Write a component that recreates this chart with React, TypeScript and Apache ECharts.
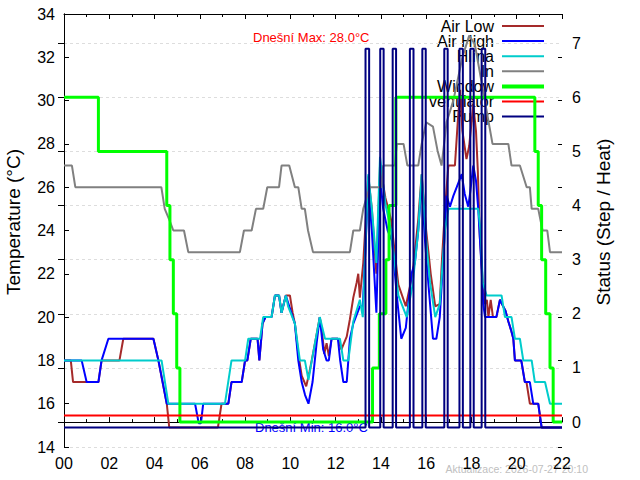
import React, { useEffect, useRef } from "react";
import * as echarts from "echarts";

// ---- data (time in hours, temperature in °C, status on right axis) ----
const airLow: [number, number][] = [
  [0, 18], [0.3, 18], [0.4, 17], [1.52, 17], [1.66, 18], [2.45, 18], [2.62, 19], [3.95, 19],
  [4.17, 18], [4.54, 16], [4.65, 14.9], [6.8, 14.9], [6.96, 16], [7.26, 16], [7.4, 17], [7.85, 17],
  [8.0, 18], [8.1, 18], [8.25, 19], [8.55, 19], [8.63, 18], [8.77, 19.7], [8.9, 20], [9.17, 20],
  [9.32, 21], [9.5, 21], [9.61, 20.2], [9.8, 21], [9.98, 21], [10.1, 20.2], [10.2, 19.7],
  [10.35, 18.3], [10.5, 17.3], [10.7, 16.8], [10.85, 17.5], [11.0, 18.3], [11.3, 20], [11.4, 19.3],
  [11.5, 18.3], [11.6, 18.8], [11.7, 18.2], [11.82, 19], [12.1, 19], [12.25, 18.5], [12.49, 19.1],
  [12.63, 19.9], [12.78, 20.9], [12.93, 21.6], [13.0, 22], [13.07, 20.9], [13.22, 22.5],
  [13.44, 26.5], [13.6, 25], [13.8, 22], [13.96, 27], [14.2, 25.5], [14.45, 24.5], [14.77, 21.5],
  [15.1, 20.5], [15.4, 22], [15.65, 24.5], [15.8, 26.6], [16.0, 24], [16.2, 22], [16.4, 20.5],
  [16.6, 20.6], [16.7, 22.7], [16.83, 25], [16.98, 27], [17.27, 27], [17.4, 29.1], [17.5, 30.5],
  [17.6, 28.6], [17.78, 27.3], [17.9, 27.9], [18.08, 29.8], [18.2, 28.6], [18.28, 26.8],
  [18.37, 23.7], [18.5, 21.6], [18.6, 20.6], [18.68, 20.8], [18.75, 20], [18.85, 20.8],
  [18.95, 20], [19.1, 20], [19.26, 20.8], [19.35, 20.6], [19.5, 20.3], [19.63, 19.8],
  [19.75, 19.4], [19.85, 19], [19.92, 18], [20.2, 18], [20.36, 17], [20.43, 17], [20.58, 16],
  [20.95, 16], [21.1, 14.9], [22, 14.9],
];

const airHigh: [number, number][] = [
  [0, 18], [0.78, 18], [1.0, 17], [1.52, 17], [1.66, 18], [1.96, 19], [3.95, 19], [4.17, 18],
  [4.54, 16], [5.79, 16], [5.95, 15.1], [6.05, 15.1], [6.15, 16], [7.26, 16], [7.4, 17],
  [7.85, 17], [8.0, 18], [8.1, 18], [8.25, 19], [8.55, 19], [8.63, 18], [8.77, 19.7], [8.9, 20],
  [9.17, 20], [9.32, 21], [9.5, 21], [9.61, 20.2], [9.8, 21], [9.95, 20.5], [10.2, 19.7],
  [10.35, 18], [10.5, 17], [10.65, 16.4], [10.8, 16], [10.98, 17], [11.16, 18.8], [11.3, 20],
  [11.45, 18.5], [11.6, 18], [11.7, 18], [11.82, 19], [12.1, 19], [12.2, 18], [12.34, 17],
  [12.49, 17], [12.63, 19], [12.78, 19.7], [13.07, 20.5], [13.2, 20.5], [13.44, 26], [13.6, 24],
  [13.8, 20.2], [13.96, 26.5], [14.1, 25], [14.3, 24], [14.5, 23.5], [14.7, 21], [14.9, 19],
  [15.1, 19.5], [15.35, 22], [15.5, 22.5], [15.65, 24], [15.8, 26.2], [15.95, 23.5], [16.1, 21.5],
  [16.3, 19], [16.45, 19], [16.6, 20], [16.8, 23.5], [16.9, 25.6], [17.05, 25.1], [17.2, 25.6],
  [17.35, 26], [17.57, 26.6], [17.7, 25.7], [17.86, 25.1], [17.95, 25.8], [18.08, 27],
  [18.2, 26.3], [18.3, 25], [18.45, 22.2], [18.52, 20.6], [18.6, 20], [19.1, 20], [19.26, 20.8],
  [19.35, 20.6], [19.5, 20.3], [19.63, 19.8], [19.75, 19.4], [19.85, 19], [19.92, 18], [20.2, 18],
  [20.36, 17], [20.58, 17], [20.73, 16], [20.95, 16], [21.1, 14.9], [22, 14.9],
];

const hlina: [number, number][] = [
  [0, 18], [4.31, 18], [4.61, 16], [7.11, 16], [7.4, 18], [8.0, 18], [8.14, 19], [8.66, 19],
  [8.8, 20], [9.17, 20], [9.32, 21], [9.5, 21], [9.61, 20.2], [9.8, 21], [9.9, 20.5],
  [10.2, 19.7], [10.42, 18], [10.64, 18], [10.8, 17.1], [11.0, 18.3], [11.3, 20], [11.53, 19],
  [12.19, 19], [12.34, 18], [12.56, 18], [12.78, 19.8], [13.07, 20.8], [13.2, 20], [13.44, 26.6],
  [13.6, 25], [13.8, 22.5], [13.96, 27.4], [14.2, 25.2], [14.45, 24], [14.77, 21], [15.14, 20],
  [15.4, 21.5], [15.65, 24], [15.8, 26.6], [16.02, 23.3], [16.17, 21.6], [16.4, 20], [16.6, 20.6],
  [16.83, 24], [16.98, 25], [18.3, 25], [18.4, 24], [18.5, 21.6], [18.67, 21], [19.33, 21],
  [19.48, 20], [19.77, 20], [19.92, 19], [20.14, 19], [20.29, 18], [20.66, 18], [20.8, 17],
  [21.25, 17], [21.47, 16], [22, 16],
];

const inside: [number, number][] = [
  [0, 27], [0.35, 27], [0.5, 26], [4.3, 26], [4.45, 25], [4.65, 24.5], [4.83, 24], [5.3, 24],
  [5.49, 23], [7.77, 23], [7.95, 24], [8.29, 24], [8.48, 25], [8.8, 25], [8.98, 26], [9.5, 26],
  [9.61, 27], [9.95, 27], [10.2, 26], [10.35, 26], [10.5, 25], [10.64, 25], [10.78, 24],
  [11.0, 23], [12.63, 23], [12.78, 24], [13.07, 24], [13.22, 25], [13.5, 26], [14.03, 26],
  [14.1, 27], [14.62, 27], [14.7, 28], [15.0, 28], [15.17, 27], [15.65, 27], [15.8, 28],
  [16.0, 29], [16.3, 28.8], [16.5, 27.7], [16.68, 27], [16.9, 29], [17.2, 30], [17.6, 32],
  [17.9, 33], [18.15, 32.6], [18.93, 28], [19.63, 28], [19.77, 27], [20.14, 27], [20.44, 26],
  [20.58, 26], [20.66, 25], [20.95, 25], [21.14, 24], [21.35, 24], [21.47, 23], [22, 23],
];

// window step (0..6), value holds from its time until the next entry
const windowSteps: [number, number][] = [
  [0, 6], [1.52, 5], [4.54, 4], [4.68, 3], [4.83, 2], [4.98, 1], [5.12, 0], [13.63, 1],
  [13.93, 2], [14.22, 3], [14.36, 4], [14.66, 6], [20.8, 5], [20.95, 4], [21.1, 3], [21.28, 2],
  [21.47, 1], [21.61, 0], [22, 0],
];

const ventilator: [number, number][] = [[0, 0.12], [22, 0.12]];

const pumpOnIntervals: [number, number][] = [
  [13.32, 13.48], [13.97, 14.12], [14.52, 14.67], [15.28, 15.44], [15.83, 15.98],
  [16.8, 16.95], [17.47, 17.62], [17.95, 18.1], [18.45, 18.61],
];
const pumpOffLevel = -0.1;
const pumpOnLevel = 6.9;

const legendNames = ["Air Low", "Air High", "Hlína", "In", "Window", "ventilator", "Pump"];
const legendColors = ["#a52a2a", "#0000ff", "#00cccc", "#808080", "#00ff00", "#ff0000", "#000080"];
const legendWidths = [2, 2, 2, 2, 4, 2, 2];

const maxText = "Dnešní Max: 28.0°C";
const minText = "Dnešní Min: 16.0°C";
const updateText = "Aktualizace: 2026-07-27 20:10";

const FONT = '"Liberation Sans", Arial, sans-serif';

export default function App() {
  const ref = useRef<HTMLDivElement>(null);

  useEffect(() => {
    const chart = echarts.init(ref.current!, null, { renderer: "svg" });

    const pumpData: [number, number][] = [[0, pumpOffLevel]];
    pumpOnIntervals.forEach(([a, b]) => {
      pumpData.push([a, pumpOnLevel]);
      pumpData.push([b, pumpOffLevel]);
    });
    pumpData.push([22, pumpOffLevel]);

    const black = { color: "#000", width: 1 };
    const lineSeries = (name: string, data: any, color: string, width: number, yAxisIndex: number, step?: string) => ({
      name,
      type: "line",
      data,
      xAxisIndex: 0,
      yAxisIndex,
      step: step || false,
      symbol: "none",
      showSymbol: false,
      lineStyle: { color, width },
      itemStyle: { color },
      emphasis: { disabled: true },
    });

    const legendGraphics: any[] = [];
    legendNames.forEach((n, i) => {
      const y = 26 + i * 15.1;
      legendGraphics.push({
        type: "text",
        x: 494,
        y,
        style: { text: n, fill: "#000", font: `16px ${FONT}`, textAlign: "right", textVerticalAlign: "middle" },
      });
      legendGraphics.push({
        type: "line",
        shape: { x1: 502, y1: y, x2: 544, y2: y },
        style: { stroke: legendColors[i], lineWidth: legendWidths[i] },
      });
    });

    const option: any = {
      animation: false,
      backgroundColor: "#ffffff",
      grid: { left: 64, right: 78, top: 14, bottom: 33, containLabel: false },
      xAxis: [
        {
          type: "value", min: 0, max: 22, interval: 2, position: "bottom",
          axisLine: { show: true, lineStyle: black },
          axisTick: { show: true, inside: true, length: 5, lineStyle: black },
          minorTick: { show: true, splitNumber: 2, length: 3, lineStyle: black },
          axisLabel: {
            color: "#000", fontSize: 16, fontFamily: FONT, margin: 8,
            formatter: (v: number) => String(v).padStart(2, "0"),
          },
          splitLine: { show: false },
        },
        {
          type: "value", min: 0, max: 22, interval: 2, position: "top",
          axisLine: { show: true, lineStyle: black },
          axisTick: { show: true, inside: true, length: 5, lineStyle: black },
          minorTick: { show: true, splitNumber: 2, length: 3, lineStyle: black },
          axisLabel: { show: false },
          splitLine: { show: false },
        },
      ],
      yAxis: [
        {
          type: "value", min: 14, max: 34, interval: 2, position: "left",
          axisLine: { show: true, lineStyle: black },
          axisTick: { show: true, inside: true, length: 5, lineStyle: black },
          axisLabel: { color: "#000", fontSize: 16, fontFamily: FONT, margin: 9 },
          splitLine: { show: false },
        },
        {
          type: "value", min: -0.46, max: 7.54, splitNumber: 8, position: "right",
          axisLine: { show: true, lineStyle: black },
          axisTick: { show: true, inside: true, length: 6, lineStyle: black },
          axisLabel: {
            color: "#000", fontSize: 16, fontFamily: FONT, margin: 10,
            showMinLabel: false, showMaxLabel: false,
            formatter: (v: number) => (Number.isInteger(v) ? String(v) : ""),
          },
          splitLine: { show: true, lineStyle: { color: "#dddddd", width: 1, type: [3, 3] } },
        },
        {
          type: "value", min: 14, max: 34, interval: 2, position: "right",
          axisLine: { show: false },
          axisTick: { show: true, inside: true, length: 4, lineStyle: black },
          axisLabel: { show: false },
          splitLine: { show: false },
        },
      ],
      graphic: [
        ...legendGraphics,
        {
          type: "text", x: 253, y: 37,
          style: { text: maxText, fill: "#ff0000", font: `13px ${FONT}`, textAlign: "left", textVerticalAlign: "middle" },
        },
        {
          type: "text", x: 255, y: 427,
          style: { text: minText, fill: "#0000ff", font: `13px ${FONT}`, textAlign: "left", textVerticalAlign: "middle" },
        },
        {
          type: "text", x: 588, y: 469,
          style: { text: updateText, fill: "#c0c0c0", font: `10.5px ${FONT}`, textAlign: "right", textVerticalAlign: "middle" },
        },
        {
          type: "text", x: 13, y: 222, rotation: Math.PI / 2,
          style: { text: "Temperature (°C)", fill: "#000", font: `19px ${FONT}`, textAlign: "center", textVerticalAlign: "middle" },
        },
        {
          type: "text", x: 603, y: 222, rotation: Math.PI / 2,
          style: { text: "Status (Step / Heat)", fill: "#000", font: `19px ${FONT}`, textAlign: "center", textVerticalAlign: "middle" },
        },
      ],
      series: [
        lineSeries("Air Low", airLow, legendColors[0], 2, 0),
        lineSeries("Air High", airHigh, legendColors[1], 2, 0),
        lineSeries("Hlína", hlina, legendColors[2], 2, 0),
        lineSeries("In", inside, legendColors[3], 2, 0),
        lineSeries("Window", windowSteps, legendColors[4], 3, 1, "end"),
        lineSeries("ventilator", ventilator, legendColors[5], 2, 1),
        lineSeries("Pump", pumpData, legendColors[6], 2, 1, "end"),
      ],
    };

    chart.setOption(option);
    return () => chart.dispose();
  }, []);

  return (
    <div
      ref={ref}
      style={{ position: "absolute", left: 0, top: 0, width: 640, height: 480, background: "#fff" }}
    />
  );
}
